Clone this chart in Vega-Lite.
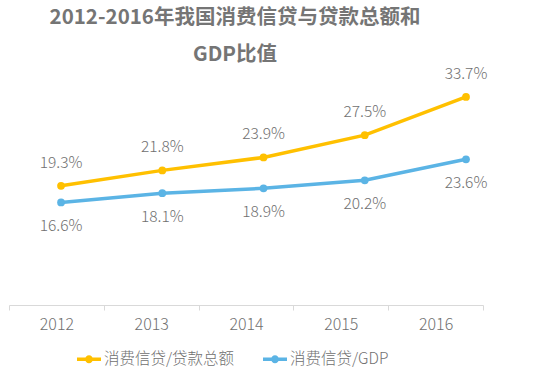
{
  "$schema": "https://vega.github.io/schema/vega-lite/v6.json",
  "width": 474,
  "height": 247,
  "autosize": {"type": "none"},
  "padding": {"left": 9, "top": 58, "right": 75, "bottom": 69},
  "background": "white",
  "config": {"view": {"stroke": null}, "font": "Noto Sans CJK SC"},
  "title": {
    "text": ["2012-2016年我国消费信贷与贷款总额和", "GDP比值"],
    "fontSize": 20.5,
    "fontWeight": "bold",
    "color": "#757575",
    "font": "Noto Sans CJK SC",
    "lineHeight": 37,
    "anchor": "middle",
    "frame": "group",
    "dx": -11,
    "offset": -7
  },
  "data": {
    "values": [
      {"year": 2012, "yearLabel": "2012", "series": "消费信贷/贷款总额", "value": 0.193},
      {"year": 2013, "yearLabel": "2013", "series": "消费信贷/贷款总额", "value": 0.218},
      {"year": 2014, "yearLabel": "2014", "series": "消费信贷/贷款总额", "value": 0.239},
      {"year": 2015, "yearLabel": "2015", "series": "消费信贷/贷款总额", "value": 0.275},
      {"year": 2016, "yearLabel": "2016", "series": "消费信贷/贷款总额", "value": 0.337},
      {"year": 2012, "yearLabel": "2012", "series": "消费信贷/GDP", "value": 0.166},
      {"year": 2013, "yearLabel": "2013", "series": "消费信贷/GDP", "value": 0.181},
      {"year": 2014, "yearLabel": "2014", "series": "消费信贷/GDP", "value": 0.189},
      {"year": 2015, "yearLabel": "2015", "series": "消费信贷/GDP", "value": 0.202},
      {"year": 2016, "yearLabel": "2016", "series": "消费信贷/GDP", "value": 0.236}
    ]
  },
  "layer": [
    {
      "mark": {"type": "tick", "opacity": 0},
      "encoding": {
        "x": {
          "field": "yearLabel",
          "type": "ordinal",
          "scale": {"type": "band", "paddingInner": 0, "paddingOuter": 0},
          "axis": {
            "title": null,
            "labelAngle": 0,
            "labelFontSize": 16,
            "labelFontWeight": 300,
            "labelColor": "#707070",
            "labelFont": "Noto Sans CJK SC",
            "domainColor": "#d9d9d9",
            "tickColor": "#d9d9d9",
            "tickBand": "extent",
            "tickSize": 5,
            "labelPadding": 6
          }
        }
      }
    },
    {
      "layer": [
        {
          "mark": {"type": "line", "strokeWidth": 3.5, "point": {"filled": true, "size": 60}},
          "encoding": {
            "color": {
              "field": "series",
              "type": "nominal",
              "sort": ["消费信贷/贷款总额", "消费信贷/GDP"],
              "scale": {"domain": ["消费信贷/贷款总额", "消费信贷/GDP"], "range": ["#FFC000", "#5BB4E5"]},
              "legend": {
                "title": null,
                "orient": "none",
                "direction": "horizontal",
                "legendX": 68,
                "legendY": 289,
                "labelFontSize": 15.5,
                "labelFontWeight": 300,
                "labelColor": "#707070",
                "labelFont": "Noto Sans CJK SC",
                "symbolType": "M-1,-0.15H1V0.15H-1Z M0.33,0A0.33,0.33,0,1,1,-0.33,0A0.33,0.33,0,1,1,0.33,0Z",
                "symbolSize": 576,
                "symbolStrokeWidth": 0,
                "labelOffset": 3,
                "columnPadding": 28,
                "encode": {"symbols": {"update": {"fill": {"scale": "color", "field": "value"}, "strokeWidth": {"value": 0}}}}
              }
            }
          }
        },
        {
          "transform": [{"filter": "datum.series === '消费信贷/贷款总额'"}],
          "mark": {"type": "text", "dy": -23, "fontSize": 15.5, "fontWeight": 300, "color": "#707070", "font": "Noto Sans CJK SC"},
          "encoding": {"text": {"field": "value", "type": "quantitative", "format": ".1%"}}
        },
        {
          "transform": [{"filter": "datum.series === '消费信贷/GDP'"}],
          "mark": {"type": "text", "dy": 24, "fontSize": 15.5, "fontWeight": 300, "color": "#707070", "font": "Noto Sans CJK SC"},
          "encoding": {"text": {"field": "value", "type": "quantitative", "format": ".1%"}}
        }
      ],
      "encoding": {
        "x": {"field": "year", "type": "quantitative", "scale": {"domain": [2011.486, 2016.168], "nice": false, "zero": false}, "axis": null},
        "y": {"field": "value", "type": "quantitative", "scale": {"domain": [0, 0.4], "nice": false}, "axis": null}
      }
    }
  ],
  "resolve": {"scale": {"x": "independent"}}
}
